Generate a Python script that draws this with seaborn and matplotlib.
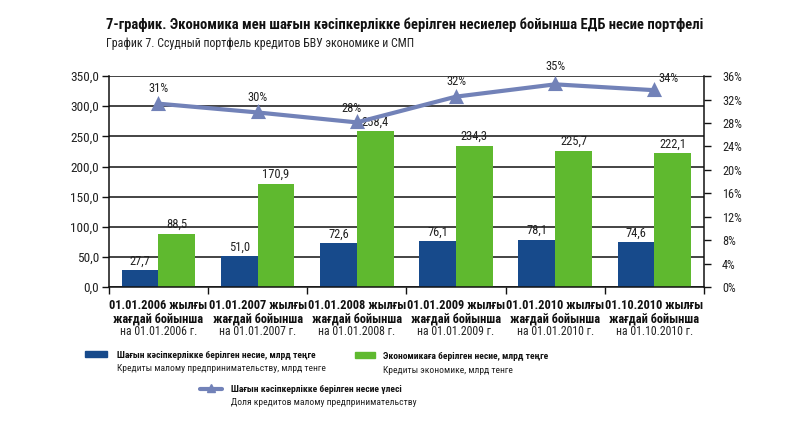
import matplotlib
matplotlib.use("Agg")
import matplotlib.pyplot as plt
import matplotlib.patches as mpatches
import matplotlib.lines as mlines
from matplotlib.ticker import FixedLocator, FuncFormatter
import numpy as np
import pandas as pd
import seaborn as sns

# Data
dates = ["01.01.2006", "01.01.2007", "01.01.2008", "01.01.2009", "01.01.2010", "01.10.2010"]
sme_loans = [27.7, 51.0, 72.6, 76.1, 78.1, 74.6]
economy_loans = [88.5, 170.9, 258.4, 234.3, 225.7, 222.1]
sme_share = [31.3, 29.8, 28.1, 32.5, 34.6, 33.6]

series_sme = "Шағын кәсіпкерлікке берілген несие, млрд теңге"
series_eco = "Экономикаға берілген несие, млрд теңге"

blue = "#174a8b"
green = "#5fb92f"
line_col = "#7282b8"

sns.set_theme(style="white")
plt.rcParams["font.family"] = ["Roboto Condensed", "Liberation Sans", "DejaVu Sans"]

df = pd.DataFrame({
    "date": dates * 2,
    "value": sme_loans + economy_loans,
    "series": [series_sme] * len(dates) + [series_eco] * len(dates),
})

fig = plt.figure(figsize=(8, 4.23), dpi=100)
ax = fig.add_axes([0.136, 0.3215, 0.744, 0.4985])

sns.barplot(data=df, x="date", y="value", hue="series",
            palette=[blue, green], width=0.74, saturation=1,
            ax=ax, legend=False)
for p in ax.patches:
    p.set_edgecolor("none")

for cont in ax.containers:
    ax.bar_label(cont, labels=[("%.1f" % v).replace(".", ",") for v in cont.datavalues],
                 padding=2, fontsize=9, color="#222222")

ax.set_ylim(0, 350)
ax.set_xlim(-0.5, len(dates) - 0.5)
ax.set_yticks(np.arange(0, 351, 50))
ax.yaxis.set_major_formatter(FuncFormatter(lambda v, _: ("%.1f" % v).replace(".", ",")))
ax.grid(axis="y", color="#111111", linewidth=1.1)
ax.set_axisbelow(True)
ax.set_xlabel("")
ax.set_ylabel("")
ax.set_xticks(range(len(dates)))
ax.set_xticklabels([])
ax.xaxis.set_minor_locator(FixedLocator(np.arange(-0.5, len(dates), 1.0)))
ax.tick_params(axis="x", which="major", length=0)
ax.tick_params(axis="x", which="minor", length=5, width=1, color="#111111", direction="out", bottom=True)
ax.tick_params(axis="y", length=5, width=1, color="#111111", direction="out", left=True,
               labelsize=9.5, labelcolor="#222222", pad=2)
for side in ["left", "bottom"]:
    ax.spines[side].set_color("#111111")
    ax.spines[side].set_linewidth(1.1)
ax.spines["top"].set_visible(False)
ax.spines["right"].set_visible(False)

# Share line on the right axis
ax2 = ax.twinx()
sns.pointplot(x=dates, y=sme_share, color=line_col, markers="^", markersize=7,
              linewidth=3, ax=ax2)
ax2.set_ylim(0, 36)
ax2.set_xlim(-0.5, len(dates) - 0.5)
ax2.set_yticks(np.arange(0, 37, 4))
ax2.yaxis.set_major_formatter(FuncFormatter(lambda v, _: "%d%%" % v))
ax2.tick_params(axis="y", length=5, width=1, color="#111111", direction="out", right=True,
                labelsize=8.8, labelcolor="#222222", pad=8)
for side in ["top", "left", "bottom"]:
    ax2.spines[side].set_visible(False)
ax2.spines["right"].set_color("#111111")
ax2.spines["right"].set_linewidth(1.1)

label_dx = [0, 0, -4, 0, 0, 10]
label_dy = [6, 6, 5, 6, 8, 4]
for i, v in enumerate(sme_share):
    ax2.annotate("%d%%" % round(v), xy=(i, v), xytext=(label_dx[i], label_dy[i]),
                 textcoords="offset points", ha="center", va="bottom",
                 fontsize=9, color="#222222")

# Category labels
for i, d in enumerate(dates):
    ax.text(i, -0.055, d + " жылғы\nжағдай бойынша", transform=ax.get_xaxis_transform(),
            ha="center", va="top", fontsize=8.9, fontweight="bold", color="#111111",
            linespacing=1.05)
    ax.text(i, -0.18, "на " + d + " г.", transform=ax.get_xaxis_transform(),
            ha="center", va="top", fontsize=8.5, color="#222222")

# Titles
fig.text(0.133, 1 - 25 / 423, "7-график. Экономика мен шағын кәсіпкерлікке берілген несиелер бойынша ЕДБ несие портфелі",
         fontsize=10.5, fontweight="bold", color="#111111", va="center")
fig.text(0.133, 1 - 43 / 423, "График 7. Ссудный портфель кредитов БВУ экономике и СМП",
         fontsize=8.6, color="#222222", va="center")

# Legend
leg_size = 6.8
fig.add_artist(mpatches.Rectangle((85 / 800, 1 - 357 / 423), 22 / 800, 6 / 423,
                                  transform=fig.transFigure, color=blue))
fig.text(117 / 800, 1 - 355 / 423, series_sme, fontsize=leg_size, fontweight="bold",
         color="#111111", va="center")
fig.text(117 / 800, 1 - 368 / 423, "Кредиты малому предпринимательству, млрд тенге",
         fontsize=leg_size, color="#222222", va="center")

fig.add_artist(mpatches.Rectangle((355 / 800, 1 - 358 / 423), 20 / 800, 6 / 423,
                                  transform=fig.transFigure, color=green))
fig.text(383 / 800, 1 - 356 / 423, series_eco, fontsize=leg_size, fontweight="bold",
         color="#111111", va="center")
fig.text(383 / 800, 1 - 370 / 423, "Кредиты экономике, млрд тенге",
         fontsize=leg_size, color="#222222", va="center")

fig.add_artist(mlines.Line2D([200 / 800, 222 / 800], [1 - 389 / 423, 1 - 389 / 423],
                             transform=fig.transFigure, color=line_col, linewidth=3))
fig.add_artist(mlines.Line2D([211 / 800], [1 - 388 / 423], transform=fig.transFigure,
                             color=line_col, marker="^", markersize=6, linestyle="none"))
fig.text(231 / 800, 1 - 389 / 423, "Шағын кәсіпкерлікке берілген несие үлесі", fontsize=leg_size,
         fontweight="bold", color="#111111", va="center")
fig.text(231 / 800, 1 - 402 / 423, "Доля кредитов малому предпринимательству",
         fontsize=leg_size, color="#222222", va="center")

fig.savefig("out.png", dpi=100, facecolor="white")
